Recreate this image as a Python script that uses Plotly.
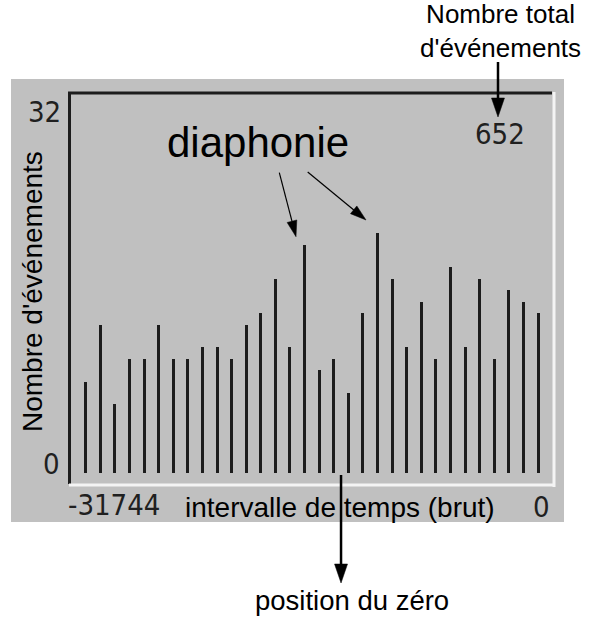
import math
import plotly.graph_objects as go

# Histogram of raw time intervals: 32 bins of 1024 counts, last bin at 0
bin_width = 1024
bin_start = -31744
counts = [8, 13, 6, 10, 10, 13, 10, 10, 11, 11, 10, 13, 14, 17, 11, 20,
          9, 10, 7, 14, 21, 17, 11, 15, 10, 18, 11, 17, 10, 16, 15, 14]
bins = [bin_start + i * bin_width for i in range(len(counts))]
total_events = 652
y_max = 32
zero_position = bins[17] + bin_width / 2  # between two bins

W, H = 594, 618
L, R, T, B = 70, 42, 94, 134
PW, PH = W - L - R, H - T - B
X_RANGE = [-32846, 982.6]
Y_RANGE = [-0.963, 33.19]

GRAY = "#c0c0c0"
INK = "#1c1c1c"
NUM_FONT = "Liberation Sans Narrow, DejaVu Sans Condensed, Arial Narrow, sans-serif"
TXT_FONT = "Liberation Sans, Arial, Helvetica, sans-serif"


def px(x):
    return (x - L) / PW


def py(y):
    return (T + PH - y) / PH


fig = go.Figure()
fig.add_trace(go.Bar(
    x=bins, y=counts, width=210, marker=dict(color=INK, line=dict(width=0)),
    hoverinfo="skip",
))

shapes = []
# grey instrument panel
shapes.append(dict(type="rect", xref="paper", yref="paper", layer="below",
                   x0=px(11), x1=px(564), y0=py(522), y1=py(79),
                   fillcolor=GRAY, line=dict(width=0)))
# sunken frame: dark left/top, white right/bottom
shapes.append(dict(type="line", xref="paper", yref="paper",
                   x0=px(69.5), x1=px(69.5), y0=py(484), y1=py(92),
                   line=dict(color=INK, width=3)))
shapes.append(dict(type="line", xref="paper", yref="paper",
                   x0=px(68), x1=px(552), y0=py(93), y1=py(93),
                   line=dict(color=INK, width=3)))
shapes.append(dict(type="line", xref="paper", yref="paper",
                   x0=px(554), x1=px(554), y0=py(487), y1=py(92),
                   line=dict(color="#f4f4f4", width=3)))
shapes.append(dict(type="line", xref="paper", yref="paper",
                   x0=px(69), x1=px(555), y0=py(485), y1=py(485),
                   line=dict(color="#f4f4f4", width=3)))


def arrow(x0, y0, x1, y1, lw, hl, hw):
    """Line from (x0,y0) to a filled triangular head at (x1,y1), in pixels."""
    dx, dy = x1 - x0, y1 - y0
    d = math.hypot(dx, dy)
    ux, uy = dx / d, dy / d
    bx, by = x1 - ux * hl, y1 - uy * hl
    nx, ny = -uy, ux
    shapes.append(dict(type="line", xref="paper", yref="paper",
                       x0=px(x0), y0=py(y0), x1=px(bx + ux), y1=py(by + uy),
                       line=dict(color="black", width=lw)))
    pts = [(x1, y1), (bx + nx * hw / 2, by + ny * hw / 2),
           (bx - nx * hw / 2, by - ny * hw / 2)]
    path = "M " + " L ".join(f"{px(a):.5f},{py(b):.5f}" for a, b in pts) + " Z"
    shapes.append(dict(type="path", xref="paper", yref="paper", path=path,
                       fillcolor="black", line=dict(color="black", width=0.5)))


arrow(498, 62, 498, 117, 2.5, 19, 13)
arrow(279.3, 172.7, 296, 236.7, 1.2, 16, 10)
arrow(307.7, 172, 366, 220, 1.2, 16, 10)
# zero-position pointer, placed on the x scale
zx = L + (zero_position - X_RANGE[0]) / (X_RANGE[1] - X_RANGE[0]) * PW
arrow(zx, 475, zx, 583, 2.5, 19, 13)

ann = []
num = dict(family=NUM_FONT, size=29, color="#202020")
ann.append(dict(text=str(y_max), xref="paper", yref="y", x=px(63), y=y_max,
                xanchor="right", yanchor="middle", yshift=-4, showarrow=False, font=num))
ann.append(dict(text="0", xref="paper", yref="y", x=px(62), y=0,
                xanchor="right", yanchor="middle", yshift=9, showarrow=False, font=num))
ann.append(dict(text=str(bins[0]), xref="paper", yref="paper", x=px(66), y=py(505),
                xanchor="left", yanchor="middle", showarrow=False, font=num))
ann.append(dict(text=str(bins[-1]), xref="paper", yref="paper", x=px(552), y=py(507),
                xanchor="right", yanchor="middle", showarrow=False, font=num))
ann.append(dict(text=str(total_events), xref="paper", yref="paper", x=px(500), y=py(134),
                xanchor="center", yanchor="middle", showarrow=False, font=num))

txt = dict(family=TXT_FONT, size=28, color="black")
ann.append(dict(text="intervalle de temps (brut)", xref="paper", yref="paper",
                x=px(340), y=py(507), xanchor="center", yanchor="middle",
                showarrow=False, font=txt))
ann.append(dict(text="Nombre d'événements", xref="paper", yref="paper",
                x=px(32), y=py(292), xanchor="center", yanchor="middle",
                textangle=-90, showarrow=False, font=txt))
ann.append(dict(text="diaphonie", xref="paper", yref="paper",
                x=px(258), y=py(142), xanchor="center", yanchor="middle",
                showarrow=False, font=dict(family=TXT_FONT, size=42, color="black")))
ann.append(dict(text="Nombre total<br>d'événements", xref="paper", yref="paper",
                x=px(500), y=py(31), xanchor="center", yanchor="middle",
                showarrow=False, font=dict(family=TXT_FONT, size=26, color="black")))
ann.append(dict(text="position du zéro", xref="paper", yref="paper",
                x=px(352), y=py(600), xanchor="center", yanchor="middle",
                showarrow=False, font=dict(family=TXT_FONT, size=27.5, color="black")))

fig.update_layout(
    width=W, height=H, margin=dict(l=L, r=R, t=T, b=B, pad=0),
    paper_bgcolor="white", plot_bgcolor=GRAY,
    showlegend=False, bargap=0,
    xaxis=dict(range=X_RANGE, showgrid=False, zeroline=False,
               showticklabels=False, ticks="", showline=False, fixedrange=True),
    yaxis=dict(range=Y_RANGE, showgrid=False, zeroline=False,
               showticklabels=False, ticks="", showline=False, fixedrange=True),
    shapes=shapes, annotations=ann,
)

fig.write_html("out.html", config={"displayModeBar": False})
